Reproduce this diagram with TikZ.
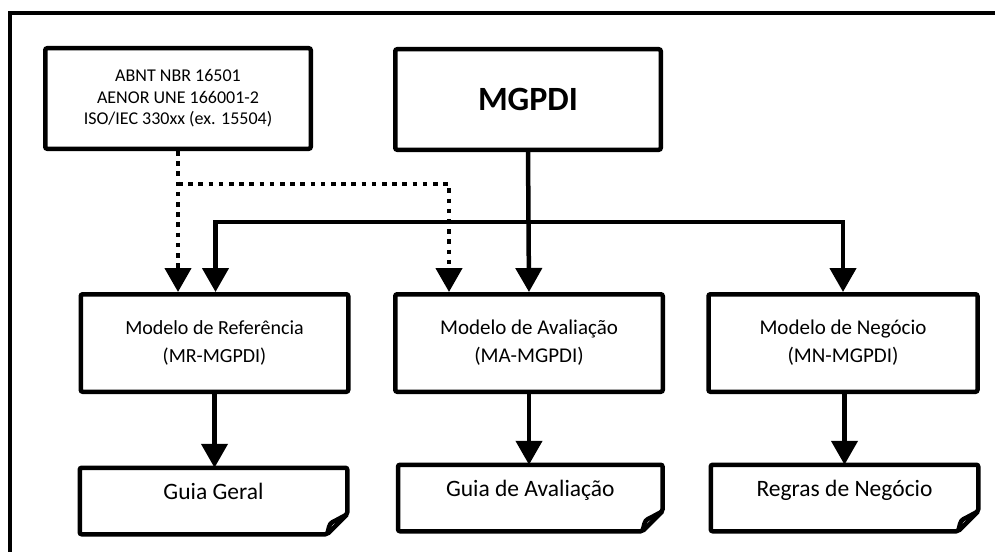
\documentclass[tikz,border=0pt]{standalone}
\usepackage{fontspec}
\setmainfont{Carlito}
\usetikzlibrary{arrows.meta}

% frame of a document symbol: rectangle with a curled lower-right corner
\newcommand{\docframe}[1]{%
  \draw[frameline] (#1.north west) -- (#1.north east) -- ([yshift=20pt]#1.south east)
    -- ([xshift=-20pt]#1.south east) -- (#1.south west) -- cycle;
  \draw[frameline, line join=round] ([xshift=-20pt]#1.south east)
    to[out=75,in=205] ([xshift=-13pt,yshift=13pt]#1.south east) -- ([yshift=20pt]#1.south east);
}

\begin{document}
\begin{tikzpicture}[x=1pt,y=-1pt,
  frameline/.style={line width=4.5pt, rounded corners=2pt},
  block/.style={draw, frameline, minimum width=267.5pt, minimum height=97.5pt,
    inner sep=0pt, align=center, font=\fontsize{21}{28}\selectfont},
  topblock/.style={block, minimum height=100.5pt, minimum width=265.5pt},
  docnode/.style={inner sep=0pt, outer sep=0pt, minimum width=267.5pt, minimum height=66.5pt,
    text height=13pt, text depth=16pt, font=\fontsize{23.5}{28}\selectfont},
  link/.style={line width=4.5pt, -{Triangle[width=26pt,length=24pt]}},
  dotlink/.style={link, line cap=butt, dash pattern=on 4.6pt off 5.6pt},
  dotline/.style={line width=4.5pt, line cap=butt, dash pattern=on 4.6pt off 5.6pt}
]
\useasboundingbox (0,0) rectangle (995,551);

% outer frame (runs past the right and lower edges)
\draw[line width=4pt] (10,553) -- (10,13) -- (997,13);

% upper row
\node[topblock, font=\fontsize{18}{21.5}\selectfont] (std) at (178,98.5)
  {ABNT NBR 16501\\AENOR UNE 166001-2\\ISO/IEC 330xx (ex. 15504)};
\node[topblock, font=\fontsize{34}{36}\bfseries] (mg) at (528,99.5) {MGPDI};

% models
\node[block, font=\fontsize{20}{28}\selectfont] (mr) at (214.5,343) {Modelo de Referência\\(MR-MGPDI)};
\node[block] (ma) at (529,343) {Modelo de Avaliação\\(MA-MGPDI)};
\node[block, minimum width=269pt] (mn) at (843,343) {Modelo de Negócio\\(MN-MGPDI)};

% documents
\node[docnode] (gg) at (213.5,501) {Guia Geral};
\node[docnode, minimum width=264.5pt] (ga) at (530.3,498) {Guia de Avaliação};
\node[docnode] (rn) at (844.5,498) {Regras de Negócio};
\docframe{gg}
\docframe{ga}
\docframe{rn}

% branching points
\coordinate (bus) at (529,222);
\coordinate (split) at (178,184);

% solid connectors
\draw[link] (mg.south) -- (ma.north);
\draw[link] (bus) -| ([xshift=1pt]mr.north);
\draw[link] (bus) -| (mn.north);
\draw[link] (mr.south) -- (mr.south |- gg.north);
\draw[link] (ma.south) -- (ma.south |- ga.north);
\draw[link] ([xshift=1.5pt]mn.south) -- ([xshift=1.5pt]mn.south |- rn.north);

% dotted connectors
\draw[dotlink] (std.south) -- (std.south |- mr.north);
\draw[dotlink] (split) -| ([xshift=-80pt]ma.north);
\end{tikzpicture}
\end{document}
